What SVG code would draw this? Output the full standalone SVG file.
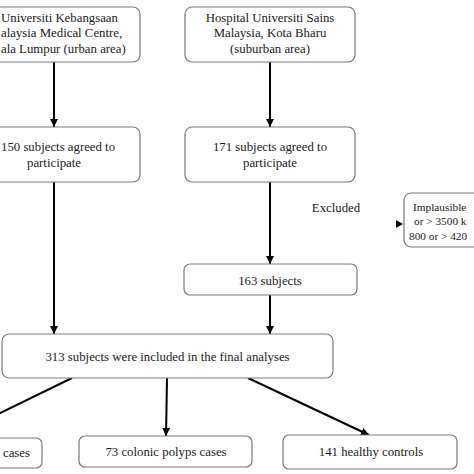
<svg xmlns="http://www.w3.org/2000/svg" width="474" height="474" viewBox="0 0 474 474">
<defs>
<style>
.box{fill:#fff;stroke:#7a7a7a;stroke-width:1.2}
.t{font-family:"Liberation Serif","DejaVu Serif",serif;font-size:12.8px;fill:#1a1a1a;text-anchor:middle}
.ts{font-family:"Liberation Serif","DejaVu Serif",serif;font-size:12.8px;fill:#1a1a1a;text-anchor:start}
.tx{font-family:"Liberation Serif","DejaVu Serif",serif;font-size:11.3px;fill:#1a1a1a;text-anchor:start}
.c{stroke:#000;stroke-width:2;fill:none}
</style>
<marker id="ah" viewBox="0 0 10 10" refX="10" refY="5" markerWidth="4" markerHeight="4" markerUnits="strokeWidth" orient="auto">
<path d="M0,0 L10,5 L0,10 Z" fill="#000"/>
</marker>
</defs>
<rect width="474" height="474" fill="#fff"/>
<g id="connectors">
<path class="c" d="M54,62 V127" marker-end="url(#ah)"/>
<path class="c" d="M270,62 V127" marker-end="url(#ah)"/>
<path class="c" d="M54,182 V334" marker-end="url(#ah)"/>
<path class="c" d="M270,182 V264" marker-end="url(#ah)"/>
<path class="c" d="M270,295 V334" marker-end="url(#ah)"/>
<path class="c" d="M72,378 L-49,437" marker-end="url(#ah)"/>
<path class="c" d="M167,378 L166,436" marker-end="url(#ah)"/>
<path class="c" d="M248,378 L369,435" marker-end="url(#ah)"/>
<path d="M396,220 L403,224 L396,228 Z" fill="#000"/>
<text class="t" x="336" y="212">Excluded</text>
</g>
<g id="n1">
<rect class="box" x="-32" y="7" width="172" height="55" rx="7"/>
<text class="ts" x="1" y="22">Universiti Kebangsaan</text>
<text class="ts" x="1" y="37">alaysia Medical Centre,</text>
<text class="ts" x="1" y="53">ala Lumpur (urban area)</text>
</g>
<g id="n2">
<rect class="box" x="185" y="7" width="170" height="55" rx="7"/>
<text class="t" x="270" y="22">Hospital Universiti Sains</text>
<text class="t" x="270" y="37">Malaysia, Kota Bharu</text>
<text class="t" x="270" y="53">(suburban area)</text>
</g>
<g id="n3">
<rect class="box" x="-32" y="127" width="172" height="55" rx="7"/>
<text class="ts" x="1" y="151">150 subjects agreed to</text>
<text class="t" x="54" y="167">participate</text>
</g>
<g id="n4">
<rect class="box" x="185" y="127" width="170" height="55" rx="7"/>
<text class="t" x="270" y="151">171 subjects agreed to</text>
<text class="t" x="270" y="167">participate</text>
</g>
<g id="n5">
<rect class="box" x="404" y="193" width="120" height="54" rx="7"/>
<text class="tx" x="413" y="211">Implausible</text>
<text class="tx" x="414" y="225">or &gt; 3500 k</text>
<text class="tx" x="409" y="240">800 or &gt; 420</text>
</g>
<g id="n6">
<rect class="box" x="184" y="264" width="173" height="31" rx="6"/>
<text class="t" x="270" y="285">163 subjects</text>
</g>
<g id="n7">
<rect class="box" x="2" y="334" width="331" height="44" rx="7"/>
<text class="t" x="167.5" y="361">313 subjects were included in the final analyses</text>
</g>
<g id="n8">
<rect class="box" x="-135" y="438" width="177" height="30" rx="6"/>
<text class="ts" x="3" y="457">cases</text>
</g>
<g id="n9">
<rect class="box" x="79" y="436" width="173" height="31" rx="6"/>
<text class="t" x="166" y="456">73 colonic polyps cases</text>
</g>
<g id="n10">
<rect class="box" x="283" y="435" width="174" height="34" rx="6"/>
<text class="t" x="371" y="456">141 healthy controls</text>
</g>
</svg>
